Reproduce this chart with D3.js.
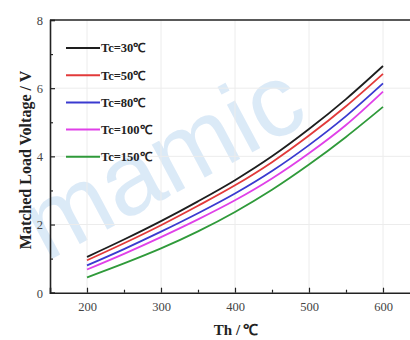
<!DOCTYPE html>
<html>
<head>
<meta charset="utf-8">
<script src="https://cdn.jsdelivr.net/npm/d3@7"></script>
<style>
  html, body { margin: 0; padding: 0; background: #fff; }
  svg { display: block; }
</style>
</head>
<body>
<svg id="chart" width="410" height="340"></svg>
<script>
// Hot-side temperature (°C)
const th = [200, 250, 300, 350, 400, 450, 500, 550, 600];

// Matched load voltage (V) for each cold-side temperature
const tc30  = [1.05, 1.56, 2.10, 2.68, 3.30, 4.00, 4.80, 5.68, 6.65];
const tc50  = [0.95, 1.45, 1.98, 2.55, 3.15, 3.83, 4.61, 5.47, 6.42];
const tc80  = [0.80, 1.28, 1.79, 2.33, 2.91, 3.57, 4.33, 5.18, 6.14];
const tc100 = [0.68, 1.14, 1.63, 2.15, 2.71, 3.35, 4.09, 4.92, 5.90];
const tc150 = [0.45, 0.86, 1.30, 1.80, 2.37, 3.02, 3.76, 4.57, 5.45];

const seriesNames  = ["Tc=30℃", "Tc=50℃", "Tc=80℃", "Tc=100℃", "Tc=150℃"];
const seriesValues = [tc30, tc50, tc80, tc100, tc150];
const seriesColors = ["#1e1e1e", "#e23a3a", "#3a3ad0", "#e040e8", "#2f9a3a"];

const xTicks = [200, 300, 400, 500, 600];
const yTicks = [0, 2, 4, 6, 8];

const svg = d3.select("#chart");
const serif = "'Liberation Serif', 'Times New Roman', serif";

const x = d3.scaleLinear().domain([150, 650]).range([50, 420]);
const y = d3.scaleLinear().domain([0, 8]).range([292.7, 20]);

// faint watermark lettering
svg.append("text")
  .attr("transform", "translate(46,262) rotate(-28)")
  .attr("font-family", "'Liberation Sans', Arial, sans-serif")
  .attr("font-size", 102)
  .attr("fill", "#d3e5f6")
  .attr("opacity", 0.8)
  .text("mamic");

// light grid at major ticks
const grid = svg.append("g").attr("stroke", "#ececec").attr("stroke-width", 1);
xTicks.forEach(v => grid.append("line")
  .attr("x1", x(v)).attr("x2", x(v)).attr("y1", y(0)).attr("y2", y(8)));
yTicks.slice(1, -1).forEach(v => grid.append("line")
  .attr("x1", x(150)).attr("x2", x(650)).attr("y1", y(v)).attr("y2", y(v)));

// curves
const line = d3.line()
  .x((d, i) => x(th[i]))
  .y(d => y(d))
  .curve(d3.curveMonotoneX);

seriesValues.forEach((vals, k) => {
  svg.append("path")
    .datum(vals)
    .attr("fill", "none")
    .attr("stroke", seriesColors[k])
    .attr("stroke-width", 1.8)
    .attr("d", line);
});

// axes (ticks point inward)
const xAxis = d3.axisBottom(x)
  .tickValues(d3.range(200, 651, 50))
  .tickSize(-5)
  .tickFormat(d => xTicks.includes(d) ? d : "");
const gx = svg.append("g").attr("transform", `translate(0,${y(0)})`).call(xAxis);
gx.selectAll(".tick line").attr("y2", d => xTicks.includes(d) ? -5 : -3);

const yAxis = d3.axisLeft(y)
  .tickValues(d3.range(0, 8.01, 1))
  .tickSize(-5)
  .tickFormat(d => yTicks.includes(d) ? d : "");
const gy = svg.append("g").attr("transform", `translate(${x(150)},0)`).call(yAxis);
gy.selectAll(".tick line").attr("x2", d => yTicks.includes(d) ? 5 : 3);

[gx, gy].forEach(g => {
  g.select(".domain").attr("stroke", "#222").attr("stroke-width", 1.6);
  g.selectAll(".tick line").attr("stroke", "#222").attr("stroke-width", 1.2);
  g.selectAll("text")
    .attr("font-family", serif)
    .attr("font-size", 12.5)
    .attr("fill", "#444");
});
gx.selectAll("text").attr("dy", "0").attr("y", 18);
gy.selectAll("text").attr("x", -7).attr("dy", "0.35em");

// top frame
svg.append("line")
  .attr("x1", x(150)).attr("x2", x(650))
  .attr("y1", y(8)).attr("y2", y(8))
  .attr("stroke", "#222").attr("stroke-width", 1.6);

// axis titles
svg.append("text")
  .attr("x", 236).attr("y", 335)
  .attr("text-anchor", "middle")
  .attr("font-family", serif).attr("font-weight", "bold").attr("font-size", 15)
  .attr("fill", "#222")
  .text("Th /\u2009℃");

svg.append("text")
  .attr("transform", "translate(31,160) rotate(-90)")
  .attr("text-anchor", "middle")
  .attr("font-family", serif).attr("font-weight", "bold").attr("font-size", 16)
  .attr("fill", "#222")
  .text("Matched Load Voltage / V");

// legend
const legend = svg.append("g");
seriesNames.forEach((name, k) => {
  const ly = 48 + k * 27.2;
  legend.append("line")
    .attr("x1", 66).attr("x2", 100).attr("y1", ly).attr("y2", ly)
    .attr("stroke", seriesColors[k]).attr("stroke-width", 2);
  legend.append("text")
    .attr("x", 101).attr("y", ly).attr("dy", "0.35em")
    .attr("font-family", serif).attr("font-weight", "bold").attr("font-size", 12.5)
    .attr("fill", "#222")
    .text(name);
});
</script>
</body>
</html>
